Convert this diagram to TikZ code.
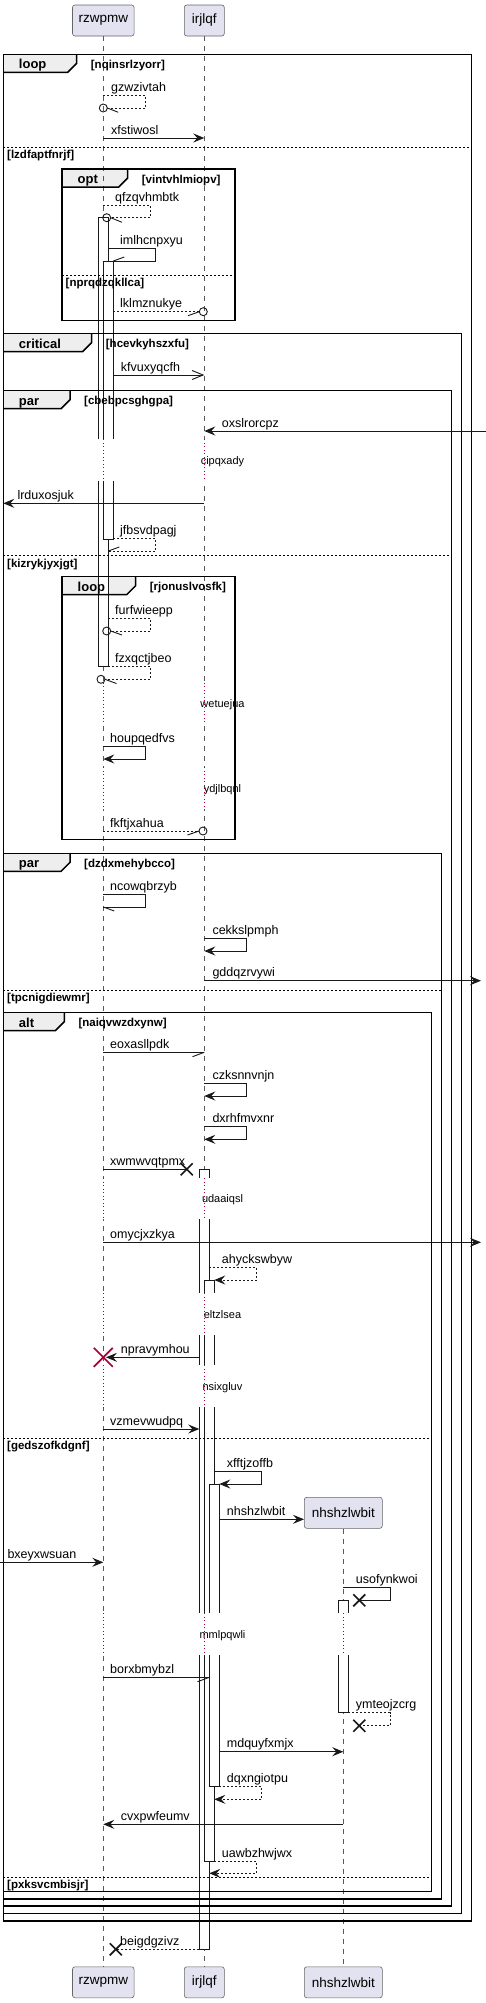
\documentclass[tikz,border=0pt]{standalone}
\usepackage{fontspec}
\setmainfont{Liberation Sans}
\usetikzlibrary{arrows.meta}
\definecolor{partfill}{HTML}{E2E2F0}
\definecolor{tabfill}{HTML}{EEEEEE}
\definecolor{delayred}{HTML}{A80036}
\tikzset{partbox/.style={draw=black!60, line width=0.6pt, fill=partfill, rounded corners=2.5pt, minimum height=31pt, inner sep=0pt, font=\fontsize{13.5}{15}\selectfont}}
\tikzset{lifeline/.style={black!65, line width=0.6pt, dash pattern=on 5pt off 5pt}}
\tikzset{delayline/.style={delayred, line width=1pt, dash pattern=on 1pt off 2.5pt}}
\tikzset{frameline/.style={line width=1.5pt, black}}
\tikzset{framesep/.style={line width=0.8pt, black, dash pattern=on 2pt off 2pt}}
\tikzset{actbar/.style={draw=black!90, line width=0.9pt, fill=white}}
\tikzset{msg/.style={line width=0.9pt, black!90}}
\tikzset{ret/.style={msg, dash pattern=on 2pt off 2pt}}
\tikzset{filltip/.style={-{Stealth[length=11pt,width=9pt,inset=4pt]}}}
\tikzset{opentip/.style={-{Straight Barb[length=11pt,width=9pt]}}}
\tikzset{lostx/.style={line width=1.6pt, black!90}}
\tikzset{msglabel/.style={anchor=base west, inner sep=0pt, font=\fontsize{12.5}{14}\selectfont}}
\tikzset{delaylabel/.style={anchor=base, inner sep=0pt, font=\fontsize{11}{13}\selectfont}}
\tikzset{kindlabel/.style={anchor=base west, inner sep=0pt, font=\bfseries\fontsize{13}{15}\selectfont}}
\tikzset{condlabel/.style={anchor=base west, inner sep=0pt, font=\bfseries\fontsize{11.5}{13}\selectfont}}
% group frames: x0, top, right, bottom, end of tab
\newcommand{\sdTab}[3]{\fill[tabfill] (#1,#2) -- (#3,#2) -- (#3,#2+9) -- (#3-9,#2+18) -- (#1,#2+18) -- cycle;}
\newcommand{\sdBox}[5]{\draw[frameline] (#1,#2) rectangle (#3,#4);
  \draw[frameline] (#5,#2) -- (#5,#2+9) -- (#5-9,#2+18) -- (#1,#2+18);}
% activation pieces: centre x, from y, to y
\newcommand{\actTop}[3]{\filldraw[actbar] (#1-5,#3) -- (#1-5,#2) -- (#1+5,#2) -- (#1+5,#3);}
\newcommand{\actBot}[3]{\filldraw[actbar] (#1-5,#2) -- (#1-5,#3) -- (#1+5,#3) -- (#1+5,#2);}
\newcommand{\actMid}[3]{\fill[white] (#1-5,#2) rectangle (#1+5,#3);
  \draw[actbar] (#1-5,#2) -- (#1-5,#3) (#1+5,#2) -- (#1+5,#3);}
\newcommand{\delaySeg}[3]{\draw[white, line width=2pt] (#1,#2) -- (#1,#3); \draw[delayline] (#1,#2) -- (#1,#3);}
\newcommand{\lostMark}[2]{\draw[lostx] (#1-6,#2-6) -- (#1+6,#2+6) (#1-6,#2+6) -- (#1+6,#2-6);}

\begin{document}
\begin{tikzpicture}[x=1pt,y=-1pt]
\useasboundingbox (0,0) rectangle (486,2003);

% tabs of the groups
\sdTab{3.3}{54.3}{76.7}
\sdTab{62}{169}{127.7}
\sdTab{3.3}{333.5}{91.7}
\sdTab{3.3}{390.7}{70}
\sdTab{62}{576.7}{135.7}
\sdTab{3.3}{853.3}{70}
\sdTab{3.3}{1012.7}{64.3}

% participants
\node[partbox, minimum width=61.6pt] (rzTop) at (103.3,20.5) {rzwpmw};
\node[partbox, minimum width=40pt] (irTop) at (204.3,20.5) {irjlqf};
\node[partbox, minimum width=61.6pt] (rzBot) at (103.3,1982.3) {rzwpmw};
\node[partbox, minimum width=40pt] (irBot) at (204.3,1982.3) {irjlqf};
\node[partbox, minimum width=78pt] (nhNew) at (343.3,1512.8) {nhshzlwbit};
\node[partbox, minimum width=78pt] (nhBot) at (343.3,1982.3) {nhshzlwbit};

\draw[lifeline] (rzTop) -- (rzBot);
\draw[lifeline] (irTop) -- (irBot);
\draw[lifeline] (nhNew) -- (nhBot);

% delays
\delaySeg{103.3}{439.3}{480.7} \delaySeg{204.3}{439.3}{480.7}
\delaySeg{103.3}{682.6}{724} \delaySeg{204.3}{682.6}{724}
\delaySeg{103.3}{767.3}{808.7} \delaySeg{204.3}{767.3}{808.7}
\delaySeg{103.3}{1178}{1219.3} \delaySeg{204.3}{1178}{1219.3}
\delaySeg{103.3}{1293.3}{1335} \delaySeg{204.3}{1293.3}{1335}
\delaySeg{103.3}{1365}{1407.3} \delaySeg{204.3}{1365}{1407.3}
\delaySeg{103.3}{1613.3}{1655} \delaySeg{204.3}{1613.3}{1655} \delaySeg{343.3}{1613.3}{1655}

% activations
\actTop{103.3}{217.7}{439.3} \actBot{103.3}{480.7}{666.7}
\actTop{108.3}{261}{439.3} \actBot{108.3}{480.7}{539}
\actTop{204.3}{1169.3}{1178} \actMid{204.3}{1219.3}{1293.3} \actMid{204.3}{1335}{1365}
\actMid{204.3}{1407.3}{1613.3} \actBot{204.3}{1655}{1949.3}
\actTop{209.3}{1280}{1293.3} \actMid{209.3}{1335}{1365} \actMid{209.3}{1407.3}{1613.3}
\actBot{209.3}{1655}{1861.7}
\actTop{214.3}{1484}{1613.3} \actBot{214.3}{1655}{1786.7}
\actTop{343.3}{1600.3}{1613.3} \actBot{343.3}{1655}{1712.7}

% group frames
\sdBox{3.3}{54.3}{471.7}{1921}{76.7}
\sdBox{62}{169}{235}{320.3}{127.7}
\sdBox{3.3}{333.5}{461.7}{1913.7}{91.7}
\sdBox{3.3}{390.7}{451.7}{1906}{70}
\sdBox{62}{576.7}{235}{839.3}{135.7}
\sdBox{3.3}{853.3}{441.7}{1899}{70}
\sdBox{3.3}{1012.7}{431.7}{1891.7}{64.3}
\draw[framesep] (3.3,147.3) -- (471.7,147.3);
\draw[framesep] (62,275) -- (235,275);
\draw[framesep] (3.3,555.7) -- (451.7,555.7);
\draw[framesep] (3.3,990) -- (441.7,990);
\draw[framesep] (3.3,1438.3) -- (431.7,1438.3);
\draw[framesep] (3.3,1877.3) -- (431.7,1877.3);

\node[kindlabel] (loopA) at (18.8,68.8) {loop};
\node[condlabel] (condA) at (90.7,68.3) {[nqinsrlzyorr]};
\node[condlabel] (sepA) at (7,158.8) {[lzdfaptfnrjf]};
\node[kindlabel] (optA) at (77.5,183.5) {opt};
\node[condlabel] (condB) at (141.7,183) {[vintvhlmiopv]};
\node[condlabel] (sepB) at (65.5,286.5) {[nprqdzqkllca]};
\node[kindlabel] (critA) at (18.8,348) {critical};
\node[condlabel] (condC) at (105.7,347.5) {[hcevkyhszxfu]};
\node[kindlabel] (parA) at (18.8,405.2) {par};
\node[condlabel] (condD) at (84,404.7) {[cbebpcsghgpa]};
\node[condlabel] (sepC) at (7,567.2) {[kizrykjyxjgt]};
\node[kindlabel] (loopB) at (77.5,591.2) {loop};
\node[condlabel] (condE) at (149.7,590.7) {[rjonuslvosfk]};
\node[kindlabel] (parB) at (18.8,867.8) {par};
\node[condlabel] (condF) at (84,867.3) {[dzdxmehybcco]};
\node[condlabel] (sepD) at (7,1001.5) {[tpcnigdiewmr]};
\node[kindlabel] (altA) at (18.8,1027.2) {alt};
\node[condlabel] (condG) at (78.3,1026.7) {[naiqvwzdxynw]};
\node[condlabel] (sepE) at (7,1449.8) {[gedszofkdgnf]};
\node[condlabel] (sepF) at (7,1888.8) {[pxksvcmbisjr]};

% loop nqinsrlzyorr
\draw[ret] (103.3,95) -- (145.7,95) -- (145.7,108) -- (107.3,108);
\draw[msg] (103.3,108) circle (4);
\draw[msg] (107.3,108) -- (118.3,112.3);
\node[msglabel] (gzwzivtah) at (111,91) {gzwzivtah};
\draw[msg, filltip] (103.3,138) -- (204.3,138);
\node[msglabel] (xfstiwosl) at (111,134) {xfstiwosl};

% opt vintvhlmiopv
\draw[ret] (103.3,205.7) -- (150.7,205.7) -- (150.7,217.7) -- (110.7,217.7);
\draw[msg] (106.7,217.7) circle (4);
\draw[msg] (110.7,217.7) -- (122,222.3);
\node[msglabel] (qfzqvhmbtk) at (115,201.7) {qfzqvhmbtk};
\draw[msg] (108.3,248.3) -- (155.7,248.3) -- (155.7,261) -- (113.3,261);
\draw[msg] (113.3,261) -- (124.3,257);
\node[msglabel] (imlhcnpxyu) at (120,244.3) {imlhcnpxyu};
\draw[ret] (113.3,311.7) -- (199.3,311.7);
\draw[msg] (203.3,311.7) circle (4);
\draw[msg] (199.3,311.7) -- (188,315.7);
\node[msglabel] (lklmznukye) at (120,307.7) {lklmznukye};

% critical
\draw[msg, opentip] (113.3,375) -- (204.3,375);
\node[msglabel] (kfvuxyqcfh) at (120.7,371) {kfvuxyqcfh};

% par cbebpcsghgpa
\draw[msg, filltip] (486,431) -- (204.3,431);
\node[msglabel] (oxslrorcpz) at (221.7,427) {oxslrorcpz};
\node[delaylabel] (cipqxady) at (222.5,464.7) {cipqxady};
\draw[msg, filltip] (204.3,503.3) -- (3.3,503.3);
\node[msglabel] (lrduxosjuk) at (17.3,499.3) {lrduxosjuk};
\draw[ret] (113.3,538.3) -- (155.7,538.3) -- (155.7,551) -- (108.3,551);
\draw[msg] (108.3,551) -- (119.3,547);
\node[msglabel] (jfbsvdpagj) at (120,534.3) {jfbsvdpagj};

% loop rjonuslvosfk
\draw[ret] (108.3,618.3) -- (150.7,618.3) -- (150.7,631) -- (110.7,631);
\draw[msg] (106.7,631) circle (4);
\draw[msg] (110.7,631) -- (122,635);
\node[msglabel] (furfwieepp) at (115,614.3) {furfwieepp};
\draw[ret] (108.3,666.7) -- (150.7,666.7) -- (150.7,679.3) -- (105,679.3);
\draw[msg] (101,679.3) circle (4);
\draw[msg] (105,679.3) -- (116.5,683.5);
\node[msglabel] (fzxqctjbeo) at (115,662.7) {fzxqctjbeo};
\node[delaylabel] (wetuejua) at (222.5,707.3) {wetuejua};
\draw[msg, filltip] (103.3,746) -- (145.7,746) -- (145.7,759) -- (103.3,759);
\node[msglabel] (houpqedfvs) at (110,742) {houpqedfvs};
\node[delaylabel] (ydjlbqnl) at (222.5,792) {ydjlbqnl};
\draw[ret] (103.3,831) -- (199,831);
\draw[msg] (203,831) circle (4);
\draw[msg] (199,831) -- (187.5,835);
\node[msglabel] (fkftjxahua) at (110,827) {fkftjxahua};

% par dzdxmehybcco
\draw[msg] (103.3,894.3) -- (145.7,894.3) -- (145.7,907) -- (103.3,907);
\draw[msg] (103.3,907) -- (114.3,911);
\node[msglabel] (ncowqbrzyb) at (110,890.3) {ncowqbrzyb};
\draw[msg, filltip] (204.3,938.3) -- (246.7,938.3) -- (246.7,951) -- (204.3,951);
\node[msglabel] (cekkslpmph) at (212.3,934.3) {cekkslpmph};
\draw[msg, filltip] (204.3,980.7) -- (481,980.7);
\node[msglabel] (gddqzrvywi) at (212.3,976.7) {gddqzrvywi};

% alt naiqvwzdxynw
\draw[msg] (103.3,1052.3) -- (204.3,1052.3);
\draw[msg] (204.3,1052.3) -- (192.5,1056.7);
\node[msglabel] (eoxasllpdk) at (110,1048.3) {eoxasllpdk};
\draw[msg, filltip] (204.3,1083.3) -- (246.7,1083.3) -- (246.7,1096) -- (204.3,1096);
\node[msglabel] (czksnnvnjn) at (212.3,1079.3) {czksnnvnjn};
\draw[msg, filltip] (204.3,1126.7) -- (246.7,1126.7) -- (246.7,1139.3) -- (204.3,1139.3);
\node[msglabel] (dxrhfmvxnr) at (212.3,1122.7) {dxrhfmvxnr};
\draw[msg] (103.3,1169.3) -- (186.7,1169.3);
\lostMark{186.7}{1169.3}
\node[msglabel] (xwmwvqtpmx) at (110,1165.3) {xwmwvqtpmx};
\node[delaylabel] (udaaiqsl) at (222.5,1202.3) {udaaiqsl};
\draw[msg, filltip] (103.3,1242.3) -- (481,1242.3);
\node[msglabel] (omycjxzkya) at (110,1238.3) {omycjxzkya};
\draw[ret, filltip] (209.3,1267.3) -- (256.7,1267.3) -- (256.7,1280) -- (214.3,1280);
\node[msglabel] (ahyckswbyw) at (221.7,1263.3) {ahyckswbyw};
\node[delaylabel] (eltzlsea) at (222.5,1318.7) {eltzlsea};
\draw[msg, filltip] (199.3,1357.3) -- (106,1357.3);
\draw[lostx, delayred] (93.8,1347.8) -- (112.8,1366.8) (93.8,1366.8) -- (112.8,1347.8);
\node[msglabel] (npravymhou) at (120.7,1353.3) {npravymhou};
\node[delaylabel] (nsixgluv) at (222.5,1390.3) {nsixgluv};
\draw[msg, filltip] (103.3,1429) -- (199.3,1429);
\node[msglabel] (vzmevwudpq) at (110,1425) {vzmevwudpq};

% else gedszofkdgnf
\draw[msg, filltip] (214.3,1471.7) -- (261.7,1471.7) -- (261.7,1484) -- (219.3,1484);
\node[msglabel] (xfftjzoffb) at (226.7,1467.7) {xfftjzoffb};
\draw[msg, filltip] (219.3,1519.3) -- (nhNew.west |- 0,1519.3);
\node[msglabel] (createNh) at (226.7,1515.3) {nhshzlwbit};
\draw[msg, filltip] (0,1562.3) -- (103.3,1562.3);
\node[msglabel] (bxeyxwsuan) at (7.3,1558.3) {bxeyxwsuan};
\draw[msg] (343.3,1587.3) -- (390,1587.3) -- (390,1600.3) -- (359.3,1600.3);
\lostMark{359.3}{1600.3}
\node[msglabel] (usofynkwoi) at (355.7,1583.3) {usofynkwoi};
\node[delaylabel] (mmlpqwli) at (222.5,1638.7) {mmlpqwli};
\draw[msg] (103.3,1677.3) -- (209.3,1677.3);
\draw[msg] (209.3,1677.3) -- (197.5,1681.7);
\node[msglabel] (borxbmybzl) at (110,1673.3) {borxbmybzl};
\draw[ret] (348.3,1712.7) -- (390,1712.7) -- (390,1725.7) -- (359.3,1725.7);
\lostMark{359.3}{1725.7}
\node[msglabel] (ymteojzcrg) at (355.7,1708.7) {ymteojzcrg};
\draw[msg, filltip] (219.3,1751.7) -- (343.3,1751.7);
\node[msglabel] (mdquyfxmjx) at (226.7,1747.7) {mdquyfxmjx};
\draw[ret, filltip] (219.3,1786.7) -- (261.7,1786.7) -- (261.7,1799.3) -- (214.3,1799.3);
\node[msglabel] (dqxngiotpu) at (226.7,1782.7) {dqxngiotpu};
\draw[msg, filltip] (343.3,1824.3) -- (103.3,1824.3);
\node[msglabel] (cvxpwfeumv) at (120.7,1820.3) {cvxpwfeumv};
\draw[ret, filltip] (214.3,1861.7) -- (256.7,1861.7) -- (256.7,1873.3) -- (209.3,1873.3);
\node[msglabel] (uawbzhwjwx) at (221.7,1857.7) {uawbzhwjwx};

% after the groups
\draw[ret] (199.3,1949.3) -- (115.8,1949.3);
\lostMark{115.8}{1949.3}
\node[msglabel] (beigdgzivz) at (120,1945.3) {beigdgzivz};

\end{tikzpicture}
\end{document}
